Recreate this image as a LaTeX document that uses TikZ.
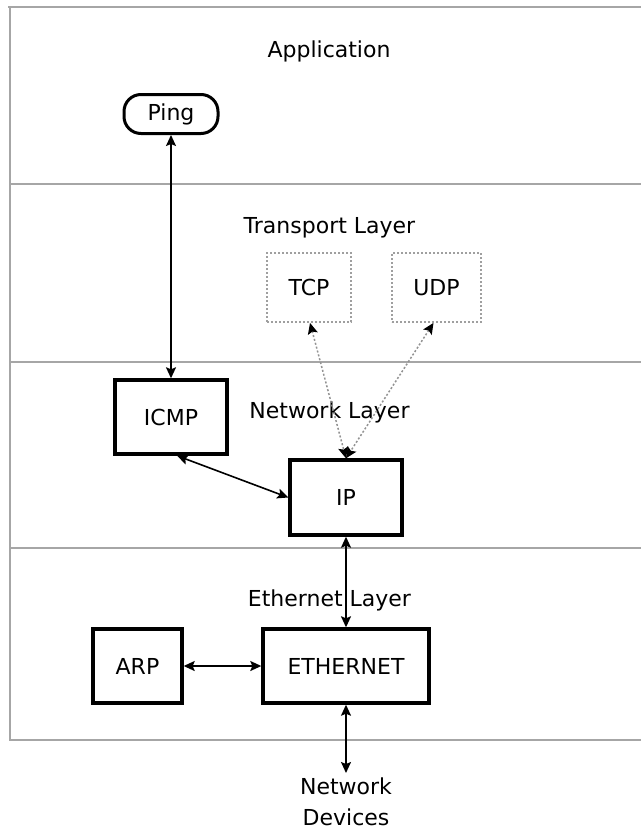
\documentclass[tikz,border=0pt]{standalone}
\usepackage{fontspec}
\setmainfont{DejaVu Sans}
\usetikzlibrary{arrows.meta}
\begin{document}
\begin{tikzpicture}[x=1pt,y=-1pt,
  band/.style={draw=gray!70, line width=1.8pt},
  txt/.style={font=\fontsize{22}{31}\selectfont, text=black},
  box/.style={txt, draw=black, line width=3.4pt, minimum height=74pt, inner sep=0pt},
  dbox/.style={txt, draw=gray!75, line width=1.8pt, dash pattern=on 2pt off 2pt, minimum height=69pt, inner sep=0pt},
  arr/.style={draw=black, line width=1.6pt, {Stealth[length=11pt,width=10pt,inset=2pt]}-{Stealth[length=11pt,width=10pt,inset=2pt]}},
  darr/.style={draw=gray!85, line width=1.5pt, dash pattern=on 2pt off 2pt, {Stealth[length=11pt,width=10pt,inset=2pt,color=black]}-{Stealth[length=11pt,width=10pt,inset=2pt,color=black]}}
]
\fill[white] (0,0) rectangle (641,833);
% layer bands
\draw[band] (8,7) -- (641,7);
\draw[band] (9,184) -- (641,184);
\draw[band] (9,362) -- (641,362);
\draw[band] (9,548) -- (641,548);
\draw[band] (9,740) -- (641,740);
\draw[band] (10,7) -- (10,740);
% layer labels
\node[txt] (lapp) at (329,51) {Application};
\node[txt] (ltr) at (329.5,228) {Transport Layer};
\node[txt] (lnet) at (329.5,412) {Network Layer};
\node[txt] (leth) at (329.5,600) {Ethernet Layer};
% components
\node[txt, draw=black, line width=3pt, rounded corners=17pt, minimum width=94pt, minimum height=39pt, inner sep=0pt] (ping) at (171,114) {Ping};
\node[box, minimum width=112pt] (icmp) at (171,417) {ICMP};
\node[box, minimum width=112pt, minimum height=75pt] (ip) at (346,497.5) {IP};
\node[dbox, minimum width=84pt] (tcp) at (309,287.5) {TCP};
\node[dbox, minimum width=89pt] (udp) at (436.5,287.5) {UDP};
\node[box, minimum width=89pt] (arp) at (137.5,666) {ARP};
\node[box, minimum width=166pt] (eth) at (346,666) {ETHERNET};
\node[txt, align=center, anchor=north, inner sep=5pt] (dev) at (346,773) {Network\\Devices};
% connectors
\draw[arr] (ping.south) -- (icmp.north);
\draw[arr] ([xshift=6pt]icmp.south) -- (ip.west);
\draw[darr] ([xshift=1pt]tcp.south) -- (ip.north);
\draw[darr] ([xshift=-3pt]udp.south) -- (ip.north);
\draw[arr] (ip.south) -- (eth.north);
\draw[arr] (arp.east) -- (eth.west);
\draw[arr] (eth.south) -- (dev.north);
\end{tikzpicture}
\end{document}
